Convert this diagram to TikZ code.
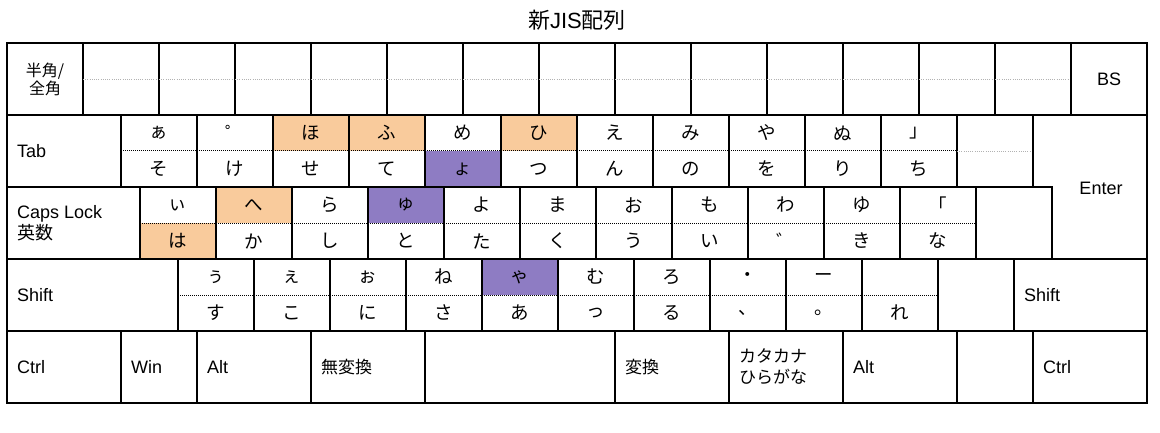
\documentclass[tikz,border=0pt]{standalone}
\usepackage{fontspec}
\setmainfont{Liberation Sans}
\newfontfamily\jp{Noto Sans CJK JP}
\usepackage{tikz}
\usetikzlibrary{positioning,calc,backgrounds}

\definecolor{kanaorange}{HTML}{F9CB9C}
\definecolor{kanapurple}{HTML}{8E7CC3}

\tikzset{
  keybox/.style={rectangle, draw, line width=2pt, inner sep=0pt, outer sep=0pt, minimum width=76pt, minimum height=72pt, anchor=north west},
  keyline/.style={draw, line width=2pt},
  kanasep/.style={line width=1pt, dash pattern=on 1pt off 1pt},
  blanksep/.style={line width=0.9pt, dash pattern=on 1pt off 1.2pt, color=black!30},
  kana/.style={font=\jp\fontsize{18.5}{20}\selectfont, inner sep=0pt},
  modlabel/.style={font=\fontsize{18}{21}\selectfont, anchor=west, align=left, inner sep=0pt},
}

\begin{document}
\begin{tikzpicture}[x=1pt, y=-1pt]
\useasboundingbox (0,0) rectangle (1160,433);
\node[font=\fontsize{22}{24}\selectfont, inner sep=0pt] (title) at (577,20) {{\jp 新}JIS{\jp 配列}};

% row 1
\node[keybox] (r1k0) at (7,43) {};
\node[font=\jp\fontsize{16}{18}\selectfont, align=center, inner sep=0pt] (hankaku) at (r1k0.center) {半角/\\全角};
\foreach \i in {1,...,13}{
  \node[keybox] (r1k\i) at ({7+76*\i},43) {};
  \draw[blanksep] (r1k\i.west) -- (r1k\i.east);
}
\node[keybox] (r1k14) at (1071,43) {};
\node[modlabel, anchor=center] (bs) at (r1k14.center) {BS};

% row 2
\node[keybox, minimum width=114pt] (tab) at (7,115) {};
\node[modlabel] (tabl) at ([xshift=10pt]tab.west) {Tab};
\foreach \kup/\kdn/\ft/\fb [count=\i from 0] in {ぁ/そ/white/white, ゜/け/white/white, ほ/せ/kanaorange/white, ふ/て/kanaorange/white, め/ょ/white/kanapurple, ひ/つ/kanaorange/white, え/ん/white/white, み/の/white/white, や/を/white/white, ぬ/り/white/white, 」/ち/white/white}{
  \node[keybox] (r2k\i) at ({121+76*\i},115) {};
  \begin{scope}[on background layer]
    \fill[\ft] (r2k\i.north west) rectangle (r2k\i.east);
    \fill[\fb] (r2k\i.west) rectangle (r2k\i.south east);
  \end{scope}
  \draw[kanasep] (r2k\i.west) -- (r2k\i.east);
  \node[kana] (r2t\i) at ($(r2k\i.north)!0.25!(r2k\i.south)$) {\kup};
  \node[kana] (r2b\i) at ($(r2k\i.north)!0.75!(r2k\i.south)$) {\kdn};
}
\node[keybox] (r2k11) at (957,115) {};
\draw[blanksep] (r2k11.west) -- (r2k11.east);

% row 3
\node[keybox, minimum width=133pt] (caps) at (7,187) {};
\node[modlabel] (capsl) at ([xshift=10pt]caps.west) {Caps Lock\\{\jp 英数}};
\foreach \kup/\kdn/\ft/\fb [count=\i from 0] in {ぃ/は/white/kanaorange, へ/か/kanaorange/white, ら/し/white/white, ゅ/と/kanapurple/white, よ/た/white/white, ま/く/white/white, お/う/white/white, も/い/white/white, わ/゛/white/white, ゆ/き/white/white, 「/な/white/white}{
  \node[keybox] (r3k\i) at ({140+76*\i},187) {};
  \begin{scope}[on background layer]
    \fill[\ft] (r3k\i.north west) rectangle (r3k\i.east);
    \fill[\fb] (r3k\i.west) rectangle (r3k\i.south east);
  \end{scope}
  \draw[kanasep] (r3k\i.west) -- (r3k\i.east);
  \node[kana] (r3t\i) at ($(r3k\i.north)!0.25!(r3k\i.south)$) {\kup};
  \node[kana] (r3b\i) at ($(r3k\i.north)!0.75!(r3k\i.south)$) {\kdn};
}
\node[keybox] (r3k11) at (976,187) {};

% row 4
\node[keybox, minimum width=171pt] (lshift) at (7,259) {};
\node[modlabel] (lshiftl) at ([xshift=10pt]lshift.west) {Shift};
\foreach \kup/\kdn/\ft/\fb [count=\i from 0] in {ぅ/す/white/white, ぇ/こ/white/white, ぉ/に/white/white, ね/さ/white/white, ゃ/あ/kanapurple/white, む/っ/white/white, ろ/る/white/white, ・/、/white/white, ー/。/white/white, {}/れ/white/white}{
  \node[keybox] (r4k\i) at ({178+76*\i},259) {};
  \begin{scope}[on background layer]
    \fill[\ft] (r4k\i.north west) rectangle (r4k\i.east);
    \fill[\fb] (r4k\i.west) rectangle (r4k\i.south east);
  \end{scope}
  \draw[kanasep] (r4k\i.west) -- (r4k\i.east);
  \node[kana] (r4t\i) at ($(r4k\i.north)!0.25!(r4k\i.south)$) {\kup};
  \node[kana] (r4b\i) at ($(r4k\i.north)!0.75!(r4k\i.south)$) {\kdn};
}
\node[keybox] (r4k10) at (938,259) {};
\node[keybox, minimum width=133pt] (rshift) at (1014,259) {};
\node[modlabel] (rshiftl) at ([xshift=10pt]rshift.west) {Shift};

% Enter
\draw[keyline] (r2k11.north east) -| (rshift.north east) -| (r3k11.north east) -| cycle;
\node[modlabel, anchor=center] (enter) at (1101,188) {Enter};

% row 5
\node[keybox, minimum width=114pt] (lctrl) at (7,331) {};
\node[keybox, minimum width=76pt, right=0pt of lctrl] (win) {};
\node[keybox, minimum width=114pt, right=0pt of win] (lalt) {};
\node[keybox, minimum width=114pt, right=0pt of lalt] (muhenkan) {};
\node[keybox, minimum width=190pt, right=0pt of muhenkan] (space) {};
\node[keybox, minimum width=114pt, right=0pt of space] (henkan) {};
\node[keybox, minimum width=114pt, right=0pt of henkan] (kana) {};
\node[keybox, minimum width=114pt, right=0pt of kana] (ralt) {};
\node[keybox, minimum width=76pt, right=0pt of ralt] (rblank) {};
\node[keybox, minimum width=114pt, right=0pt of rblank] (rctrl) {};
\node[modlabel] (lctrll) at ([xshift=10pt]lctrl.west) {Ctrl};
\node[modlabel] (winl) at ([xshift=10pt]win.west) {Win};
\node[modlabel] (laltl) at ([xshift=10pt]lalt.west) {Alt};
\node[modlabel, font=\jp\fontsize{17}{21}\selectfont] (muhenkanl) at ([xshift=10pt]muhenkan.west) {無変換};
\node[modlabel, font=\jp\fontsize{17}{21}\selectfont] (henkanl) at ([xshift=10pt]henkan.west) {変換};
\node[modlabel, font=\jp\fontsize{17}{21}\selectfont] (kanal) at ([xshift=10pt]kana.west) {カタカナ\\ひらがな};
\node[modlabel] (raltl) at ([xshift=10pt]ralt.west) {Alt};
\node[modlabel] (rctrll) at ([xshift=10pt]rctrl.west) {Ctrl};
\end{tikzpicture}
\end{document}
